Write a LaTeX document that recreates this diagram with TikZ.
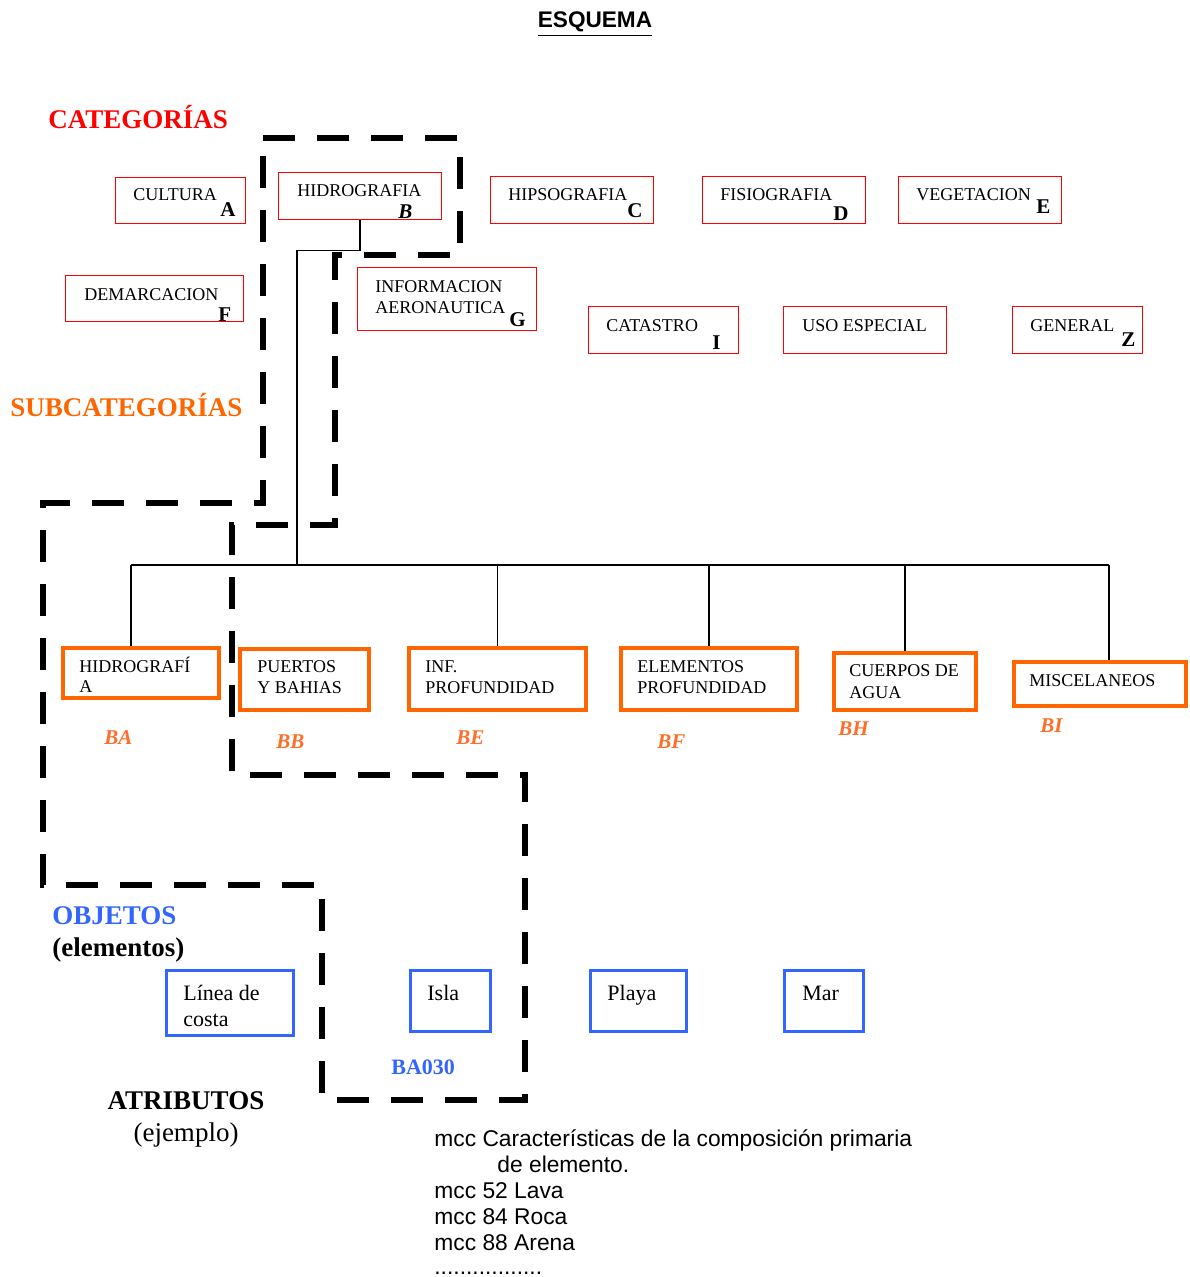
\documentclass[tikz,border=0pt]{standalone}
\usepackage{fontspec}
\setmainfont{Liberation Serif}
\newfontfamily\arialfont{Liberation Sans}
\definecolor{catred}{RGB}{255,0,0}
\definecolor{suborange}{RGB}{255,102,0}
\definecolor{codeorange}{RGB}{255,110,40}
\definecolor{objblue}{RGB}{51,102,255}

\begin{document}
\begin{tikzpicture}[
	x=0.5pt, y=-0.5pt,
	catbox/.style={draw=catred, line width=0.8pt, inner sep=0pt},
	subbox/.style={draw=suborange, line width=2pt, inner sep=0pt},
	objbox/.style={draw=objblue, line width=1.5pt, inner sep=0pt},
	txt/.style={anchor=base west, inner sep=0pt, font=\fontsize{9}{10}\selectfont},
	letter/.style={anchor=base west, inner sep=0pt, font=\fontsize{10.5}{12}\selectfont\bfseries},
	code/.style={anchor=base west, inner sep=0pt, text=codeorange, font=\fontsize{10.5}{12}\selectfont\bfseries\itshape},
	objtxt/.style={anchor=base west, inner sep=0pt, font=\fontsize{11}{13}\selectfont},
	heading/.style={anchor=base west, inner sep=0pt, font=\fontsize{13.5}{16}\selectfont\bfseries},
	attr/.style={anchor=base west, inner sep=0pt, font=\arialfont\fontsize{11.4}{13}\selectfont},
	wire/.style={line width=0.6pt},
	branch/.style={line width=3pt, dash pattern=on 16pt off 11pt}
]
\useasboundingbox (0,0) rectangle (1189,1277);

\node[anchor=base, inner sep=0pt, font=\arialfont\bfseries\fontsize{11.3}{13}\selectfont] (title) at (595,28) {\underline{ESQUEMA}};

% categorias
\node[heading, text=catred] (hcat) at (48,129) {CATEGORÍAS};
\node[catbox, minimum width=65pt, minimum height=23pt] (cul) at (180.5,200.5) {};
\node[catbox, minimum width=81.5pt, minimum height=23.5pt] (hid) at (360,196) {};
\node[catbox, minimum width=81.5pt, minimum height=23.5pt] (hip) at (572,200) {};
\node[catbox, minimum width=81.5pt, minimum height=23.5pt] (fis) at (784,200) {};
\node[catbox, minimum width=81.5pt, minimum height=23.5pt] (veg) at (980,200) {};
\node[catbox, minimum width=89pt, minimum height=23pt] (dem) at (154.5,298.5) {};
\node[catbox, minimum width=89.5pt, minimum height=31.5pt] (aer) at (447,299) {};
\node[catbox, minimum width=75pt, minimum height=23.5pt] (cat) at (663.5,330) {};
\node[catbox, minimum width=81.5pt, minimum height=23.5pt] (uso) at (865,330) {};
\node[catbox, minimum width=65pt, minimum height=23.5pt] (gen) at (1077.5,330) {};

\node[txt] (tcul) at (133,201) {CULTURA};
\node[letter] (lcul) at (220,217) {A};
\node[txt] (thid) at (297,197) {HIDROGRAFIA};
\node[letter, font=\fontsize{10.5}{12}\selectfont\bfseries\itshape] (lhid) at (398,219) {B};
\node[txt] (thip) at (508,201) {HIPSOGRAFIA};
\node[letter] (lhip) at (627,218) {C};
\node[txt] (tfis) at (720,201) {FISIOGRAFIA};
\node[letter] (lfis) at (833,221) {D};
\node[txt] (tveg) at (916,201) {VEGETACION};
\node[letter] (lveg) at (1036,214) {E};
\node[txt] (tdem) at (84,301) {DEMARCACION};
\node[letter] (ldem) at (218,322) {F};
\node[txt] (taer1) at (375,293) {INFORMACION};
\node[txt] (taer2) at (375,314) {AERONAUTICA};
\node[letter] (laer) at (509,327) {G};
\node[txt] (tcat) at (606,332) {CATASTRO};
\node[letter] (lcat) at (712,350) {I};
\node[txt] (tuso) at (802,332) {USO ESPECIAL};
\node[txt] (tgen) at (1030,332) {GENERAL};
\node[letter] (lgen) at (1121,347) {Z};

% subcategorias
\node[heading, text=suborange] (hsub) at (10,417) {SUBCATEGORÍAS};
\node[subbox, minimum width=78pt, minimum height=25pt] (sba) at (141,673) {};
\node[subbox, minimum width=64.5pt, minimum height=30.5pt] (sbb) at (304.5,679.5) {};
\node[subbox, minimum width=88.5pt, minimum height=31pt] (sbe) at (497.5,679) {};
\node[subbox, minimum width=88pt, minimum height=31pt] (sbf) at (709,679) {};
\node[subbox, minimum width=71pt, minimum height=28.5pt] (sbh) at (905,681.5) {};
\node[subbox, minimum width=86pt, minimum height=22pt] (sbi) at (1099.5,684) {};

\node[txt] (tsba1) at (79,672) {HIDROGRAFÍ};
\node[txt] (tsba2) at (79,692) {A};
\node[txt] (tsbb1) at (257,672) {PUERTOS};
\node[txt] (tsbb2) at (257,693) {Y BAHIAS};
\node[txt] (tsbe1) at (425,672) {INF.};
\node[txt] (tsbe2) at (425,693) {PROFUNDIDAD};
\node[txt] (tsbf1) at (637,672) {ELEMENTOS};
\node[txt] (tsbf2) at (637,693) {PROFUNDIDAD};
\node[txt] (tsbh1) at (849,676) {CUERPOS DE};
\node[txt] (tsbh2) at (849,698) {AGUA};
\node[txt] (tsbi) at (1029,686) {MISCELANEOS};

\node[code] (cba) at (104,744) {BA};
\node[code] (cbb) at (276,748) {BB};
\node[code] (cbe) at (456,744) {BE};
\node[code] (cbf) at (657,748) {BF};
\node[code] (cbh) at (838,735) {BH};
\node[code] (cbi) at (1040,732) {BI};

% conectores
\coordinate (bus) at (297,565);
\coordinate (busl) at (131,565);
\coordinate (busr) at (1109,565);
\draw[wire] (hid.south) -- ++(0,30) -| (bus);
\draw[wire] (busl) -- (busr);
\draw[wire] (busl) -- (busl |- sba.north);
\foreach \s in {sbe,sbf,sbh}
	\draw[wire] (\s.north |- bus) -- (\s.north);
\draw[wire] (busr) -- (busr |- sbi.north);

% objetos
\node[heading, text=objblue] (hobj) at (52,924) {OBJETOS};
\node[heading] (hele) at (52,956) {(elementos)};
\node[objbox, minimum width=63.5pt, minimum height=32.5pt] (ocos) at (230,1003) {};
\node[objbox, minimum width=40pt, minimum height=30.5pt] (oisl) at (450.5,1001) {};
\node[objbox, minimum width=48pt, minimum height=30.5pt] (opla) at (638.5,1001) {};
\node[objbox, minimum width=39.5pt, minimum height=30.5pt] (omar) at (824,1001) {};
\node[objtxt] (tcos1) at (183,1000) {Línea de};
\node[objtxt] (tcos2) at (183,1026) {costa};
\node[objtxt] (tisl) at (427,1000) {Isla};
\node[objtxt] (tpla) at (607,1000) {Playa};
\node[objtxt] (tmar) at (802,1000) {Mar};
\node[anchor=base west, inner sep=0pt, text=objblue, font=\fontsize{11}{13}\selectfont\bfseries] (code) at (391,1074) {BA030};

\draw[branch] (263,138) -- (460,138) -- (460,255) -- (335,255) -- (335,525) -- (232,525) -- (232,775) -- (525,775) -- (525,1100) -- (322,1100) -- (322,885) -- (43,885) -- (43,503) -- (263,503) -- cycle;

% atributos
\node[heading, anchor=base] (hatr) at (186,1109) {ATRIBUTOS};
\node[heading, anchor=base, font=\fontsize{13.5}{16}\selectfont] (hejm) at (186,1141) {(ejemplo)};
\node[attr] (a1) at (434,1146) {mcc Características de la composición primaria};
\node[attr] (a2) at (497,1172) {de elemento.};
\node[attr] (a3) at (434,1198) {mcc 52 Lava};
\node[attr] (a4) at (434,1224) {mcc 84 Roca};
\node[attr] (a5) at (434,1250) {mcc 88 Arena};
\node[attr] (a6) at (434,1274) {.................};

\end{tikzpicture}
\end{document}
